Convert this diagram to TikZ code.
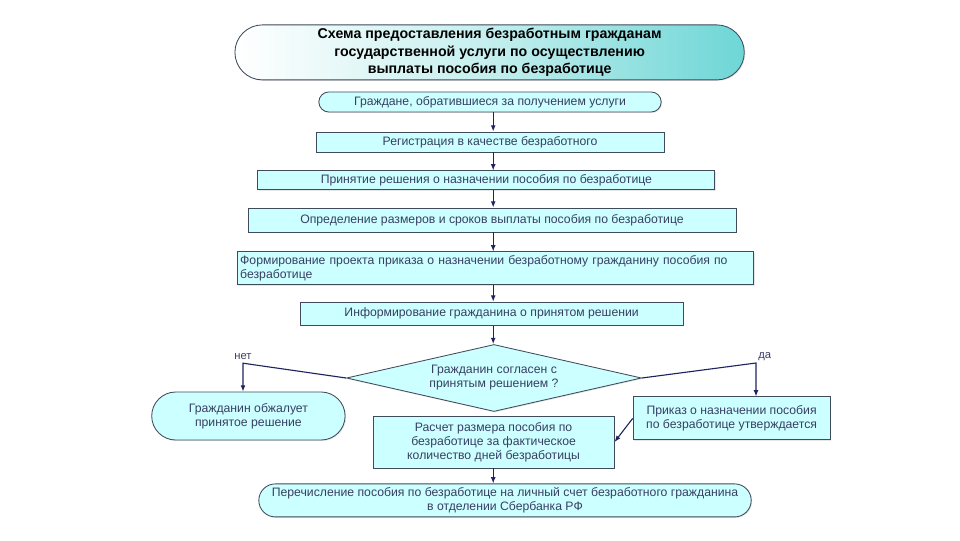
\documentclass[tikz,border=0pt]{standalone}
\usepackage{fontspec}
\setmainfont{Liberation Sans}
\usetikzlibrary{shapes.geometric, shapes.misc, arrows.meta, shadows}
\definecolor{boxfill}{HTML}{CCFFFF}
\definecolor{boxline}{HTML}{3F4A5A}
\definecolor{arrowblue}{HTML}{1F2460}
\definecolor{titleteal}{HTML}{6ED6D6}
\definecolor{txt}{HTML}{383F62}

\begin{document}
\begin{tikzpicture}[
    box/.style={draw=boxline, fill=boxfill, line width=0.6pt, inner sep=2pt, text=txt,
      font=\fontsize{8.7}{10}\selectfont, align=center,
      drop shadow={opacity=0.2, shadow xshift=0.7pt, shadow yshift=-0.7pt}},
    pill/.style={box, rounded rectangle},
    lbl/.style={text=txt, font=\fontsize{8}{9}\selectfont, inner sep=1pt},
    arr/.style={draw=arrowblue, line width=0.8pt, -{Latex[length=4.5pt,width=3.5pt]}},
  ]
  \useasboundingbox (0,0) rectangle (24,13.5);

  % Title
  \node[pill, minimum width=12.875cm, minimum height=1.375cm, left color=white,
    right color=titleteal, middle color=titleteal!40, text=black,
    font=\fontsize{10.1}{12.3}\selectfont\bfseries] (title) at (12.24,12.19)
    {Схема предоставления безработным гражданам\\
     государственной услуги по осуществлению\\
     выплаты пособия по безработице};

  % Main column
  \node[pill, minimum width=8.7cm, minimum height=0.5cm] (b1) at (12.25,10.95)
    {Граждане, обратившиеся за получением услуги};
  \node[box, minimum width=8.7cm, minimum height=0.5cm] (b2) at (12.25,9.95)
    {Регистрация в качестве безработного};
  \node[box, minimum width=11.425cm, minimum height=0.475cm] (b3) at (12.16,8.99)
    {Принятие решения о назначении пособия по безработице};
  \node[box, minimum width=12.2cm, minimum height=0.6cm] (b4) at (12.3,8.0)
    {Определение размеров и сроков выплаты пособия по безработице};
  \node[box, text width=12.77cm, minimum height=0.825cm, align=left] (b5) at (12.39,6.79)
    {Формирование проекта приказа о назначении безработному гражданину пособия по\\
     безработице};
  \node[box, minimum width=9.575cm, minimum height=0.575cm] (b6) at (12.29,5.66)
    {Информирование гражданина о принятом решении};

  % Decision
  \node[box, diamond, aspect=4.4, inner sep=0pt, minimum width=7.375cm,
    minimum height=1.675cm] (dec) at (12.35,4.05)
    {Гражданин согласен с\\ принятым решением ?};

  \node[pill, minimum width=4.975cm, minimum height=1.2cm] (obj) at (6.21,3.1)
    {Гражданин обжалует\\ принятое решение};
  \node[box, minimum width=4.925cm, minimum height=1.075cm] (prikaz) at (18.29,3.04)
    {Приказ о назначении пособия\\ по безработице утверждается};
  \node[box, minimum width=6.025cm, minimum height=1.3cm] (calc) at (12.34,2.45)
    {Расчет размера пособия по\\ безработице за фактическое\\ количество дней безработицы};
  \node[pill, minimum width=12.45cm, minimum height=0.825cm] (final) at (12.625,0.99)
    {Перечисление пособия по безработице на личный счет безработного гражданина\\
     в отделении Сбербанка РФ};

  % Connectors
  \coordinate (col) at (12.33,0);
  \foreach \a/\b in {b1/b2, b2/b3, b3/b4, b4/b5, b5/b6, b6/dec, calc/final}
    \draw[arr] (col |- \a.south) -- (col |- \b.north);

  \coordinate (no) at (6.075,4.42);
  \coordinate (yes) at (18.9,4.425);
  \draw[arr] (dec.west) -- (no) -- (no |- obj.north);
  \draw[arr] (dec.east) -- (yes) -- (yes |- prikaz.north);
  \node[lbl, anchor=south] (nolbl) at ([yshift=1.5pt]no) {нет};
  \node[lbl, anchor=south west] (yeslbl) at ([xshift=0.5pt,yshift=0.5pt]yes) {да};
  \draw[arr] (prikaz.west) -- (calc.east);
\end{tikzpicture}
\end{document}
